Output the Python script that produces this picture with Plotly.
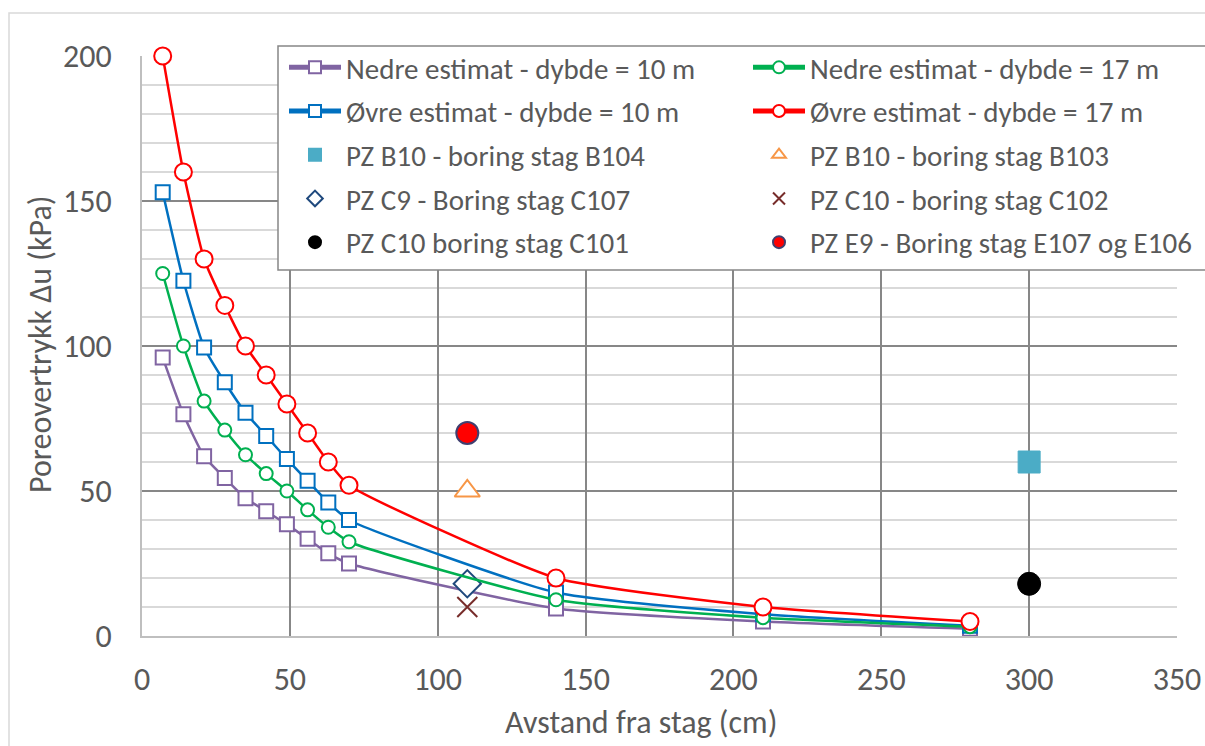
import plotly.graph_objects as go

x_est = [7, 14, 21, 28, 35, 42, 49, 56, 63, 70, 140, 210, 280]
nedre_10 = [96, 76.5, 62, 54.5, 47.5, 43, 38.5, 33.5, 28.5, 25, 9.5, 5, 2.5]
ovre_10 = [153, 122.5, 99.5, 87.5, 77, 69, 61, 53.5, 46, 40, 15, 7.5, 3.5]
nedre_17 = [125, 100, 81, 71, 62.5, 56, 50, 43.5, 37.5, 32.5, 12.5, 6.3, 3.2]
ovre_17 = [200, 160, 130, 114, 100, 90, 80, 70, 60, 52, 20, 10, 5]

pz_b104 = ([300], [60])
pz_b103 = ([110], [50])
pz_c107 = ([110], [18])
pz_c102 = ([110], [10])
pz_c101 = ([300], [18])
pz_e9 = ([110], [70])

x_ticks = [0, 50, 100, 150, 200, 250, 300, 350]
y_ticks = [0, 50, 100, 150, 200]

FONT = "Carlito, Lato, sans-serif"
TXT = "#595959"

fig = go.Figure()

def line_trace(y, name, color, symbol, size, legend):
    return go.Scatter(
        x=x_est, y=y, name=name, mode="lines+markers",
        line=dict(color=color, width=2.5, shape="spline", smoothing=0.5),
        marker=dict(symbol=symbol, size=size, color="white",
                    line=dict(color=color, width=2)),
        legend=legend, legendgroup=name, cliponaxis=False)

def pt_trace(xy, name, symbol, size, fill, lcolor, lw, legend):
    return go.Scatter(
        x=xy[0], y=xy[1], name=name, mode="markers",
        marker=dict(symbol=symbol, size=size, color=fill,
                    line=dict(color=lcolor, width=lw)),
        legend=legend, legendgroup=name, cliponaxis=False)

# left column
fig.add_trace(line_trace(nedre_10, "Nedre estimat - dybde = 10 m", "#8064a2", "square", 14, "legend"))
fig.add_trace(line_trace(ovre_10, "Øvre estimat - dybde = 10 m", "#0070c0", "square", 14, "legend"))
fig.add_trace(pt_trace(pz_b104, "PZ B10 - boring stag B104", "square", 22, "#4bacc6", "#4bacc6", 1, "legend"))
fig.add_trace(pt_trace(pz_c107, "PZ C9 - Boring stag C107", "diamond", 21, "white", "#1f497d", 2, "legend"))
fig.add_trace(pt_trace(pz_c101, "PZ C10 boring stag C101", "circle", 23, "black", "black", 1, "legend"))
# right column
fig.add_trace(line_trace(nedre_17, "Nedre estimat - dybde = 17 m", "#00b050", "circle", 13, "legend2"))
fig.add_trace(line_trace(ovre_17, "Øvre estimat - dybde = 17 m", "#ff0000", "circle", 17, "legend2"))
fig.add_trace(pt_trace(pz_b103, "PZ B10 - boring stag B103", "triangle-up", 22, "white", "#f79646", 2, "legend2"))
fig.add_trace(pt_trace(pz_c102, "PZ C10 - boring stag C102", "x-thin-open", 20, "#772c2a", "#772c2a", 2, "legend2"))
fig.add_trace(pt_trace(pz_e9, "PZ E9 - Boring stag E107 og E106", "circle", 22, "#ff0000", "#403f6f", 2, "legend2"))

W, H = 1205, 746
L, R, T, B = 142, 28, 56, 110
pw, ph = W - L - R, H - T - B

def px(xp):
    return (xp - L) / pw

def py(yp):
    return (H - B - yp) / ph

legend_common = dict(
    font=dict(family=FONT, size=29, color=TXT),
    bgcolor="rgba(0,0,0,0)", borderwidth=0,
    orientation="v", yanchor="top",
    tracegroupgap=3, itemwidth=52, itemsizing="constant",
)

fig.update_layout(
    width=W, height=H,
    margin=dict(l=L, r=R, t=T, b=B, autoexpand=False),
    paper_bgcolor="white", plot_bgcolor="white",
    font=dict(family=FONT, size=30, color=TXT),
    showlegend=True,
    legend=dict(x=px(284), y=py(42), xanchor="left", **legend_common),
    legend2=dict(x=px(1197), y=py(42), xanchor="right", **legend_common),
    xaxis=dict(
        range=[0, 350], tickvals=x_ticks, ticktext=[str(v) for v in x_ticks],
        showgrid=True, gridcolor="#878787", gridwidth=1.5,
        showline=True, linecolor="#bfbfbf", linewidth=2,
        zeroline=False, ticks="", ticklabelstandoff=14, automargin=False,
        tickfont=dict(family=FONT, size=32, color=TXT),
    ),
    yaxis=dict(
        range=[0, 200], tickvals=y_ticks, ticktext=[str(v) for v in y_ticks],
        showgrid=True, gridcolor="#878787", gridwidth=1.5,
        minor=dict(dtick=10, tick0=0, showgrid=True, gridcolor="#d9d9d9", gridwidth=1.5, ticks=""),
        showline=True, linecolor="#bfbfbf", linewidth=2,
        zeroline=False, ticks="", ticklabelstandoff=22, automargin=False,
        tickfont=dict(family=FONT, size=32, color=TXT),
    ),
    shapes=[
        # outer chart border
        dict(type="rect", xref="paper", yref="paper",
             x0=px(9), x1=px(1215), y0=py(760), y1=py(13),
             line=dict(color="#d9d9d9", width=1.5), fillcolor="rgba(0,0,0,0)", layer="below"),
        # legend box
        dict(type="rect", xref="paper", yref="paper",
             x0=px(278), x1=px(1206), y0=py(270), y1=py(46),
             line=dict(color="#868686", width=1.5), fillcolor="white", layer="above"),
    ],
    annotations=[
        dict(text="Avstand fra stag (cm)", xref="paper", yref="paper",
             x=px(641), y=py(722), xanchor="center", yanchor="middle",
             showarrow=False, font=dict(family=FONT, size=32, color=TXT)),
        dict(text="Poreovertrykk Δu (kPa)", xref="paper", yref="paper",
             x=px(40), y=py(345), xanchor="center", yanchor="middle", textangle=-90,
             showarrow=False, font=dict(family=FONT, size=32, color=TXT)),
    ],
)

fig.write_html("out.html", config={"displayModeBar": False},
               post_script="document.body.style.margin='0';document.body.style.overflow='hidden';")
